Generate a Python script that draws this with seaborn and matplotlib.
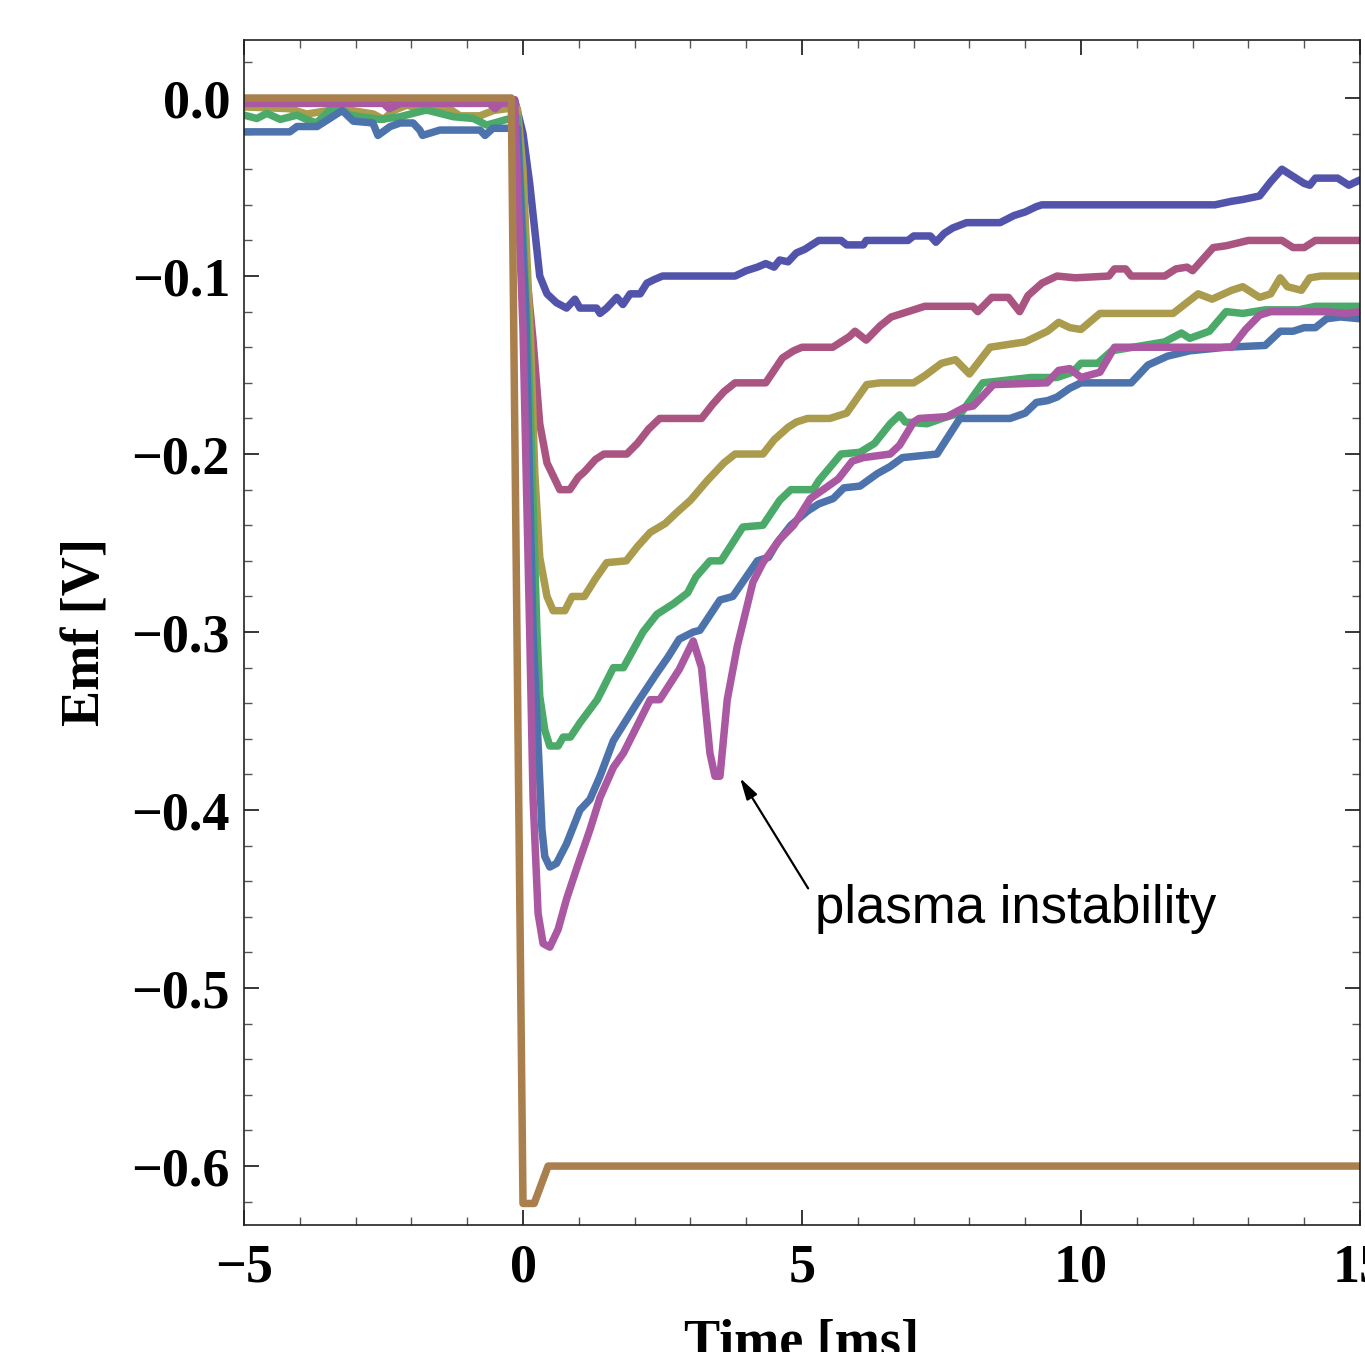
import numpy as np
import pandas as pd
import matplotlib
matplotlib.use("Agg")
import matplotlib.pyplot as plt
from matplotlib.ticker import MultipleLocator
import seaborn as sns

# ---------------- data ----------------
series_names = ["s1", "s2", "s3", "s4", "s5", "s6", "s7"]
series_colors = ["#5254AC", "#AA5581", "#AA9B4D", "#4BAA6A", "#4D73AD", "#AA58A2", "#AA7F4E"]

t1 = [-5, -0.15, 0.0, 0.12, 0.21, 0.3, 0.43, 0.6, 0.78, 0.93, 1.02, 1.32, 1.38, 1.5, 1.68, 1.79, 1.92, 2.1,
      2.22, 2.35, 2.5, 3.8, 4.0, 4.2, 4.35, 4.5, 4.6, 4.75, 4.9, 5.05, 5.3, 5.7, 5.8, 6.1, 6.15, 6.9, 7.0,
      7.3, 7.4, 7.55, 7.7, 7.95, 8.55, 8.8, 9.0, 9.2, 9.3, 12.4, 12.7, 12.9, 13.2, 13.4, 13.6, 13.8, 14.0,
      14.1, 14.2, 14.6, 14.8, 15.0]
v1 = [-0.001, -0.001, -0.02, -0.048, -0.074, -0.1, -0.11, -0.115, -0.118, -0.113, -0.118, -0.118, -0.121,
      -0.118, -0.112, -0.116, -0.11, -0.11, -0.104, -0.102, -0.1, -0.1, -0.097, -0.095, -0.093, -0.095,
      -0.091, -0.092, -0.087, -0.085, -0.08, -0.08, -0.0825, -0.0825, -0.08, -0.08, -0.0775, -0.0775, -0.081,
      -0.076, -0.073, -0.07, -0.07, -0.066, -0.064, -0.061, -0.06, -0.06, -0.058, -0.057, -0.055, -0.047,
      -0.04, -0.044, -0.048, -0.049, -0.045, -0.045, -0.049, -0.046]

t2 = [-5, -0.15, 0.04, 0.18, 0.3, 0.43, 0.66, 0.84, 0.99, 1.1, 1.3, 1.45, 1.86, 2.05, 2.25, 2.45, 3.2, 3.4,
      3.6, 3.8, 4.35, 4.5, 4.65, 4.85, 5.0, 5.55, 5.85, 5.95, 6.15, 6.4, 6.6, 6.9, 7.2, 8.06, 8.15, 8.4,
      8.7, 8.9, 9.05, 9.3, 9.57, 9.9, 10.5, 10.6, 10.8, 10.9, 11.5, 11.7, 11.9, 12.0, 12.37, 12.6, 13.0,
      13.6, 13.8, 14.0, 14.2, 15.0]
v2 = [-0.001, -0.001, -0.091, -0.136, -0.183, -0.205, -0.22, -0.22, -0.213, -0.21, -0.203, -0.2, -0.2,
      -0.194, -0.186, -0.18, -0.18, -0.172, -0.165, -0.16, -0.16, -0.153, -0.146, -0.142, -0.14, -0.14,
      -0.134, -0.131, -0.136, -0.128, -0.123, -0.12, -0.117, -0.117, -0.12, -0.112, -0.112, -0.12, -0.111,
      -0.104, -0.1, -0.101, -0.1, -0.096, -0.096, -0.1, -0.1, -0.096, -0.095, -0.097, -0.084, -0.083, -0.08,
      -0.08, -0.084, -0.084, -0.08, -0.08]

t3 = [-5, -4.18, -3.88, -3.28, -2.68, -2.5, -2.32, -2.08, -1.73, -1.37, -1.13, -0.77, -0.53, -0.29, -0.1,
      0.0, 0.14, 0.21, 0.3, 0.43, 0.54, 0.75, 0.88, 1.1, 1.3, 1.5, 1.85, 2.05, 2.28, 2.55, 2.75, 3.0, 3.3,
      3.6, 3.8, 4.3, 4.5, 4.75, 4.9, 5.1, 5.5, 5.8, 6.16, 6.4, 7.0, 7.2, 7.5, 7.75, 8.0, 8.37, 9.0, 9.4,
      9.6, 9.8, 10.0, 10.34, 11.65, 12.1, 12.35, 12.7, 12.9, 13.2, 13.4, 13.57, 13.7, 13.95, 14.1, 14.3, 15.0]
v3 = [-0.005, -0.006, -0.009, -0.006, -0.009, -0.012, -0.007, -0.004, -0.007, -0.005, -0.01, -0.01,
      -0.007, -0.006, -0.006, -0.04, -0.14, -0.21, -0.258, -0.28, -0.288, -0.288, -0.28, -0.28, -0.27,
      -0.261, -0.26, -0.252, -0.244, -0.239, -0.233, -0.226, -0.215, -0.205, -0.2, -0.2, -0.192, -0.185,
      -0.182, -0.18, -0.18, -0.177, -0.161, -0.16, -0.16, -0.156, -0.149, -0.147, -0.155, -0.14, -0.137,
      -0.131, -0.126, -0.129, -0.13, -0.121, -0.121, -0.11, -0.113, -0.108, -0.106, -0.112, -0.11, -0.101,
      -0.106, -0.108, -0.101, -0.1, -0.1]

t4 = [-5, -4.77, -4.59, -4.35, -4.05, -3.88, -3.7, -3.46, -3.28, -3.1, -2.92, -2.56, -2.2, -1.97, -1.73,
      -1.49, -1.25, -0.89, -0.65, -0.29, -0.1, 0.09, 0.25, 0.3, 0.39, 0.48, 0.63, 0.72, 0.85, 1.02, 1.33,
      1.62, 1.8, 2.15, 2.4, 2.7, 2.95, 3.1, 3.35, 3.55, 3.94, 4.3, 4.6, 4.8, 5.2, 5.3, 5.7, 6.04, 6.3,
      6.58, 6.75, 6.85, 7.24, 7.6, 7.85, 8.24, 9.1, 9.57, 9.85, 10.0, 10.3, 10.55, 11.5, 11.8, 11.95, 12.3,
      12.6, 12.9, 13.3, 13.9, 14.2, 15.0]
v4 = [-0.0096, -0.0115, -0.0086, -0.012, -0.0096, -0.012, -0.014, -0.0067, -0.006, -0.0096, -0.0105,
      -0.012, -0.0105, -0.0086, -0.0067, -0.0086, -0.0105, -0.0115, -0.0152, -0.012, -0.011, -0.136, -0.3,
      -0.336, -0.355, -0.364, -0.364, -0.359, -0.359, -0.351, -0.338, -0.32, -0.32, -0.3, -0.29, -0.284,
      -0.278, -0.269, -0.26, -0.26, -0.241, -0.24, -0.226, -0.22, -0.22, -0.215, -0.2, -0.199, -0.194,
      -0.183, -0.178, -0.182, -0.183, -0.179, -0.177, -0.16, -0.157, -0.157, -0.154, -0.149, -0.149,
      -0.142, -0.137, -0.132, -0.135, -0.131, -0.12, -0.121, -0.119, -0.119, -0.117, -0.117]

t5 = [-5, -4.18, -4.05, -3.69, -3.24, -3.04, -2.69, -2.6, -2.38, -2.2, -1.97, -1.85, -1.8, -1.49, -0.77,
      -0.68, -0.54, -0.1, 0.05, 0.18, 0.34, 0.39, 0.48, 0.6, 0.78, 1.02, 1.2, 1.38, 1.62, 1.86, 2.04, 2.4,
      2.6, 2.8, 3.05, 3.17, 3.53, 3.76, 4.2, 4.4, 4.55, 4.8, 5.1, 5.3, 5.56, 5.75, 6.04, 6.35, 6.58, 6.8,
      7.42, 7.83, 8.73, 9.0, 9.2, 9.4, 9.57, 9.8, 10.0, 10.9, 11.2, 11.55, 11.95, 12.6, 13.3, 13.57, 13.8,
      14.0, 14.2, 14.4, 14.65, 15.0]
v5 = [-0.019, -0.019, -0.016, -0.016, -0.007, -0.013, -0.014, -0.021, -0.016, -0.014, -0.014, -0.018,
      -0.021, -0.018, -0.018, -0.021, -0.017, -0.017, -0.12, -0.3, -0.411, -0.426, -0.432, -0.43, -0.419,
      -0.4, -0.394, -0.381, -0.361, -0.349, -0.34, -0.323, -0.314, -0.304, -0.3, -0.299, -0.282, -0.28,
      -0.26, -0.258, -0.25, -0.24, -0.232, -0.228, -0.225, -0.219, -0.218, -0.211, -0.207, -0.202, -0.2,
      -0.18, -0.18, -0.177, -0.171, -0.17, -0.168, -0.163, -0.16, -0.16, -0.15, -0.145, -0.142, -0.14,
      -0.139, -0.131, -0.131, -0.129, -0.129, -0.124, -0.123, -0.124]

t6 = [-5, -2.5, -2.4, -2.2, -0.6, -0.5, -0.4, -0.15, 0.0, 0.12, 0.18, 0.27, 0.36, 0.48, 0.63, 0.78, 0.97,
      1.2, 1.38, 1.62, 1.8, 2.04, 2.28, 2.45, 2.8, 3.05, 3.2, 3.35, 3.44, 3.53, 3.66, 3.84, 4.12, 4.3, 4.6,
      4.85, 5.15, 5.38, 5.65, 5.9, 6.1, 6.58, 6.75, 7.0, 7.1, 7.6, 7.9, 8.07, 8.43, 9.39, 9.6, 9.8, 10.0,
      10.34, 10.6, 12.7, 12.95, 13.2, 13.4, 14.4, 14.75, 15.0]
v6 = [-0.003, -0.003, -0.006, -0.003, -0.003, -0.006, -0.003, -0.003, -0.13, -0.3, -0.393, -0.458,
      -0.475, -0.477, -0.467, -0.45, -0.432, -0.411, -0.393, -0.376, -0.368, -0.353, -0.338, -0.338,
      -0.321, -0.305, -0.32, -0.368, -0.381, -0.381, -0.338, -0.308, -0.272, -0.261, -0.248, -0.24,
      -0.225, -0.22, -0.214, -0.204, -0.202, -0.2, -0.195, -0.182, -0.18, -0.179, -0.174, -0.173, -0.161,
      -0.16, -0.153, -0.152, -0.157, -0.154, -0.14, -0.14, -0.13, -0.122, -0.12, -0.12, -0.121, -0.12]

t7 = [-5, -0.21, 0.0, 0.2, 0.45, 15.0]
v7 = [0.0, 0.0, -0.621, -0.621, -0.6, -0.6]

x_ticks = [-5, 0, 5, 10, 15]
x_ticklabels = ["\u22125", "0", "5", "10", "15"]
y_ticks = [0.0, -0.1, -0.2, -0.3, -0.4, -0.5, -0.6]
y_ticklabels = ["0.0", "\u22120.1", "\u22120.2", "\u22120.3", "\u22120.4", "\u22120.5", "\u22120.6"]

annotation_text = "plasma instability"
arrow_tip = (3.89, -0.382)
arrow_tail = (5.11, -0.444)
text_pos = (5.23, -0.4635)

# ---------------- build long table ----------------
all_t = [t1, t2, t3, t4, t5, t6, t7]
all_v = [v1, v2, v3, v4, v5, v6, v7]
frames = []
for name, tt, vv in zip(series_names, all_t, all_v):
    frames.append(pd.DataFrame({"t": tt, "v": vv, "series": name}))
df = pd.concat(frames, ignore_index=True)

# ---------------- style ----------------
sns.set_style("ticks")
plt.rcParams["font.family"] = ["Liberation Serif", "DejaVu Serif"]
plt.rcParams["text.color"] = "black"
plt.rcParams["axes.labelcolor"] = "black"
plt.rcParams["xtick.color"] = "black"
plt.rcParams["ytick.color"] = "black"

fig = plt.figure(figsize=(13.65, 13.52), dpi=100)
ax = fig.add_axes([244 / 1365, 1 - 1225 / 1352, 1116 / 1365, 1185 / 1352])

sns.lineplot(data=df, x="t", y="v", hue="series", hue_order=series_names,
             palette=dict(zip(series_names, series_colors)), estimator=None, sort=False,
             linewidth=5.4, legend=False, ax=ax)

ax.set_xlim(-5, 15)
ax.set_ylim(-0.6331, 0.0326)

ax.set_xticks(x_ticks)
ax.set_xticklabels(x_ticklabels, fontsize=39, fontweight="bold", color="black")
ax.set_yticks(y_ticks)
ax.set_yticklabels(y_ticklabels, fontsize=39, fontweight="bold", color="black")
ax.xaxis.set_minor_locator(MultipleLocator(1))
ax.yaxis.set_minor_locator(MultipleLocator(0.02))

ax.tick_params(which="both", direction="in", top=True, right=True)
ax.tick_params(which="major", length=11, width=1.1, color="black", labelcolor="black")
ax.tick_params(which="minor", length=6, width=1.0, color="#555555")
ax.tick_params(axis="y", which="major", pad=10)
ax.tick_params(axis="x", which="major", pad=13)

for sp in ax.spines.values():
    sp.set_color("#222222")
    sp.set_linewidth(1.2)
    sp.set_visible(True)

ax.set_xlabel("Time [ms]", fontsize=39, fontweight="bold", color="black")
ax.set_ylabel("Emf [V]", fontsize=39, fontweight="bold", color="black")
ax.xaxis.set_label_coords(0.5, -0.0785)
ax.yaxis.set_label_coords(-0.1183, 0.5)

ax.annotate("", xy=arrow_tip, xytext=arrow_tail,
            arrowprops=dict(arrowstyle="-|>,head_length=0.65,head_width=0.18",
                            mutation_scale=20, color="black", lw=1.6,
                            shrinkA=0, shrinkB=0))
ax.text(text_pos[0], text_pos[1], annotation_text, fontsize=38, va="baseline", ha="left",
        family=["Liberation Sans", "DejaVu Sans"], color="black")

fig.savefig("out.png", dpi=100)
